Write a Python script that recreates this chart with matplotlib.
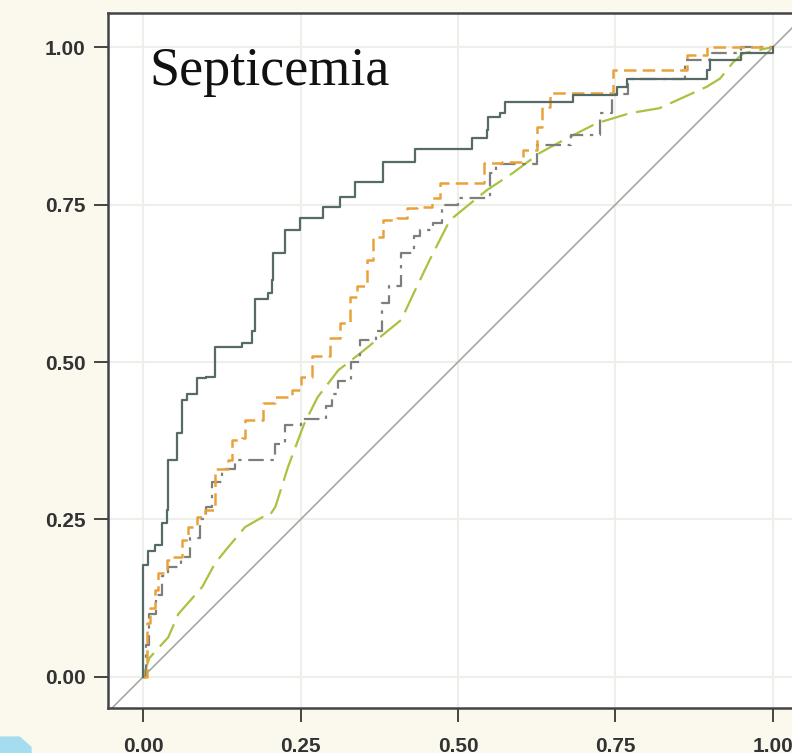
import matplotlib.pyplot as plt
from matplotlib.patches import Polygon

# ROC curves (false positive rate, true positive rate)
solid_fpr = [0.0, 0.0, 0.008, 0.019, 0.030, 0.038, 0.040, 0.040, 0.054, 0.062,
             0.070, 0.086, 0.100, 0.114, 0.157, 0.173, 0.178, 0.198, 0.205,
             0.206, 0.225, 0.249, 0.286, 0.313, 0.337, 0.381, 0.432, 0.522,
             0.546, 0.548, 0.567, 0.575, 0.683, 0.752, 0.768, 0.895, 0.900,
             0.950, 1.0]
solid_tpr = [0.0, 0.178, 0.200, 0.210, 0.245, 0.265, 0.310, 0.345, 0.387, 0.440,
             0.450, 0.475, 0.476, 0.524, 0.530, 0.550, 0.600, 0.610, 0.630,
             0.673, 0.710, 0.729, 0.746, 0.762, 0.786, 0.817, 0.838, 0.855,
             0.868, 0.889, 0.895, 0.913, 0.924, 0.937, 0.950, 0.963, 0.980,
             0.990, 1.0]

orange_fpr = [0.0, 0.006, 0.011, 0.019, 0.024, 0.038, 0.046, 0.062, 0.071, 0.086,
              0.098, 0.114, 0.114, 0.135, 0.141, 0.157, 0.162, 0.190, 0.210,
              0.237, 0.250, 0.268, 0.297, 0.313, 0.329, 0.340, 0.356, 0.365,
              0.381, 0.403, 0.419, 0.435, 0.459, 0.471, 0.541, 0.570, 0.603,
              0.625, 0.633, 0.646, 0.746, 0.863, 0.895, 1.0]
orange_tpr = [0.0, 0.086, 0.110, 0.138, 0.165, 0.186, 0.190, 0.217, 0.238, 0.254,
              0.265, 0.290, 0.330, 0.344, 0.376, 0.380, 0.408, 0.435, 0.444,
              0.455, 0.476, 0.510, 0.538, 0.562, 0.603, 0.620, 0.662, 0.698,
              0.725, 0.729, 0.745, 0.746, 0.760, 0.784, 0.816, 0.817, 0.837,
              0.873, 0.905, 0.927, 0.963, 0.987, 1.0, 1.0]

dashdot_fpr = [0.0, 0.005, 0.010, 0.020, 0.030, 0.040, 0.060, 0.075, 0.090, 0.100,
               0.110, 0.125, 0.146, 0.210, 0.225, 0.250, 0.290, 0.300, 0.310,
               0.330, 0.345, 0.370, 0.380, 0.390, 0.410, 0.410, 0.430, 0.440,
               0.460, 0.475, 0.500, 0.550, 0.560, 0.625, 0.680, 0.725, 0.745,
               0.770, 0.860, 0.900, 0.950, 1.0]
dashdot_tpr = [0.0, 0.050, 0.100, 0.130, 0.160, 0.175, 0.190, 0.220, 0.250, 0.270,
               0.310, 0.330, 0.344, 0.370, 0.400, 0.410, 0.430, 0.450, 0.470,
               0.500, 0.535, 0.550, 0.593, 0.620, 0.645, 0.673, 0.700, 0.710,
               0.720, 0.750, 0.760, 0.800, 0.815, 0.845, 0.860, 0.895, 0.925,
               0.950, 0.980, 0.990, 1.0, 1.0]

green_fpr = [0.0, 0.010, 0.040, 0.056, 0.094, 0.114, 0.135, 0.162, 0.190, 0.200,
             0.210, 0.230, 0.255, 0.277, 0.310, 0.345, 0.410, 0.430, 0.455,
             0.487, 0.520, 0.546, 0.587, 0.630, 0.667, 0.720, 0.773, 0.820,
             0.895, 0.916, 0.937, 0.953, 1.0]
green_tpr = [0.0, 0.030, 0.063, 0.100, 0.143, 0.180, 0.206, 0.238, 0.254, 0.255,
             0.270, 0.333, 0.400, 0.444, 0.487, 0.514, 0.567, 0.610, 0.662,
             0.725, 0.752, 0.773, 0.800, 0.832, 0.852, 0.879, 0.895, 0.903,
             0.937, 0.950, 0.976, 0.990, 1.0]

ticks = [0.0, 0.25, 0.5, 0.75, 1.0]
tick_labels = ["0.00", "0.25", "0.50", "0.75", "1.00"]


def plot_data():
    fig = plt.figure(figsize=(7.92, 7.53), dpi=100)
    fig.patch.set_facecolor("#fbf8ee")
    # axes run a little past the right edge, as in the picture
    ax = fig.add_axes([0.1364, 0.0598, 0.8838, 0.9229])
    ax.set_facecolor("white")
    ax.set_xlim(-0.0556, 1.0556)
    ax.set_ylim(-0.0492, 1.054)

    ax.grid(True, color="#efefea", linewidth=1.5)
    ax.set_axisbelow(True)

    # reference line
    ax.plot([-0.06, 1.06], [-0.06, 1.06], color="#a0a0a0", linewidth=1.1)

    ax.plot(green_fpr, green_tpr, color="#a9c23f", linewidth=1.6,
            dashes=(12, 4))
    ax.plot(dashdot_fpr, dashdot_tpr, color="#7c7f7a", linewidth=1.6,
            drawstyle="steps-post", dashes=(7, 3, 1.5, 3))
    ax.plot(orange_fpr, orange_tpr, color="#e9a23b", linewidth=1.8,
            drawstyle="steps-post", dashes=(5, 2.5))
    ax.plot(solid_fpr, solid_tpr, color="#566a66", linewidth=1.6,
            drawstyle="steps-post")

    ax.text(0.0095, 0.94, "Septicemia", family="Liberation Serif",
            fontsize=39, color="#111111", va="baseline", ha="left")

    ax.set_xticks(ticks)
    ax.set_xticklabels(tick_labels)
    ax.set_yticks(ticks)
    ax.set_yticklabels(tick_labels)
    for lab in ax.get_xticklabels() + ax.get_yticklabels():
        lab.set_family("Liberation Sans")
        lab.set_fontweight("bold")
        lab.set_fontsize(15)
        lab.set_color("#333333")
    ax.tick_params(axis="both", length=10, width=1.4, color="#444444")
    ax.tick_params(axis="y", pad=6)
    ax.tick_params(axis="x", pad=11)

    for side in ["left", "bottom", "top", "right"]:
        ax.spines[side].set_color("#444444")
        ax.spines[side].set_linewidth(1.8)

    # small blue shape in the lower left corner of the picture
    fig.patches.append(Polygon([[0.0, 0.0], [0.04, 0.0], [0.04, 0.008],
                                [0.025, 0.022], [0.0, 0.022]],
                               closed=True, transform=fig.transFigure,
                               facecolor="#a6dcef", edgecolor="none"))

    fig.savefig("out.png", dpi=100, facecolor=fig.get_facecolor())
    return


if __name__ == "__main__":
    plot_data()
